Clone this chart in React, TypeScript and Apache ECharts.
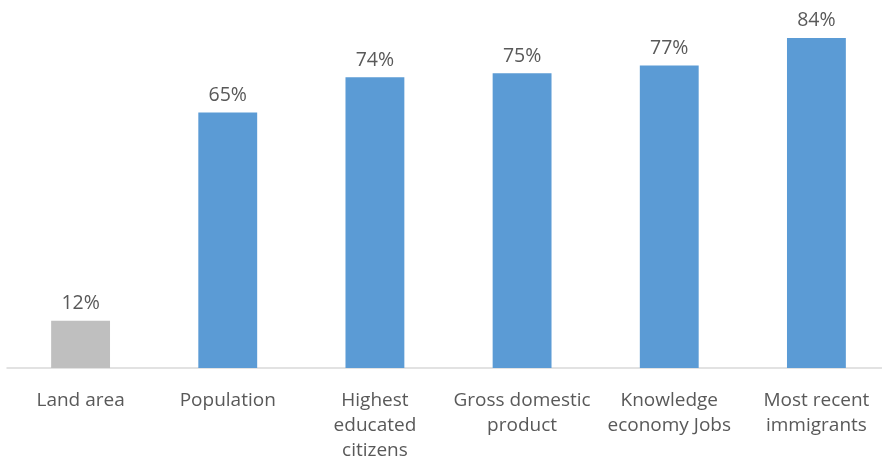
import React, { useEffect, useRef } from "react";
import * as echarts from "echarts";

const categories = [
  "Land area",
  "Population",
  "Highest\neducated\ncitizens",
  "Gross domestic\nproduct",
  "Knowledge\neconomy Jobs",
  "Most recent\nimmigrants",
];
const values = [12, 65, 74, 75, 77, 84];
const barColors = ["#BFBFBF", "#5B9BD5", "#5B9BD5", "#5B9BD5", "#5B9BD5", "#5B9BD5"];

export default function App() {
  const ref = useRef<HTMLDivElement>(null);
  useEffect(() => {
    if (!ref.current) return;
    const chart = echarts.init(ref.current, null, { renderer: "svg" });
    chart.setOption({
      animation: false,
      grid: { left: 7, width: 883, top: 14.4, height: 353.6, outerBoundsMode: "none", containLabel: false },
      xAxis: {
        type: "category",
        data: categories,
        axisLine: { lineStyle: { color: "#D9D9D9", width: 1.5 } },
        axisTick: { show: false },
        axisLabel: {
          interval: 0,
          color: "#595959",
          fontFamily: "Open Sans",
          fontSize: 19,
          lineHeight: 25,
          margin: 18,
        },
      },
      yAxis: {
        type: "value",
        min: 0,
        max: 90,
        show: false,
        splitLine: { show: false },
      },
      series: [
        {
          type: "bar",
          barWidth: "40%",
          data: values.map((v, i) => ({ value: v, itemStyle: { color: barColors[i] } })),
          label: {
            show: true,
            position: "top",
            distance: 9,
            formatter: "{c}%",
            color: "#595959",
            fontFamily: "Open Sans",
            fontSize: 19.5,
          },
        },
      ],
    });
    return () => chart.dispose();
  }, []);
  return (
    <div
      ref={ref}
      style={{ position: "fixed", left: 0, top: 0, width: 882, height: 461, overflow: "hidden" }}
    />
  );
}
